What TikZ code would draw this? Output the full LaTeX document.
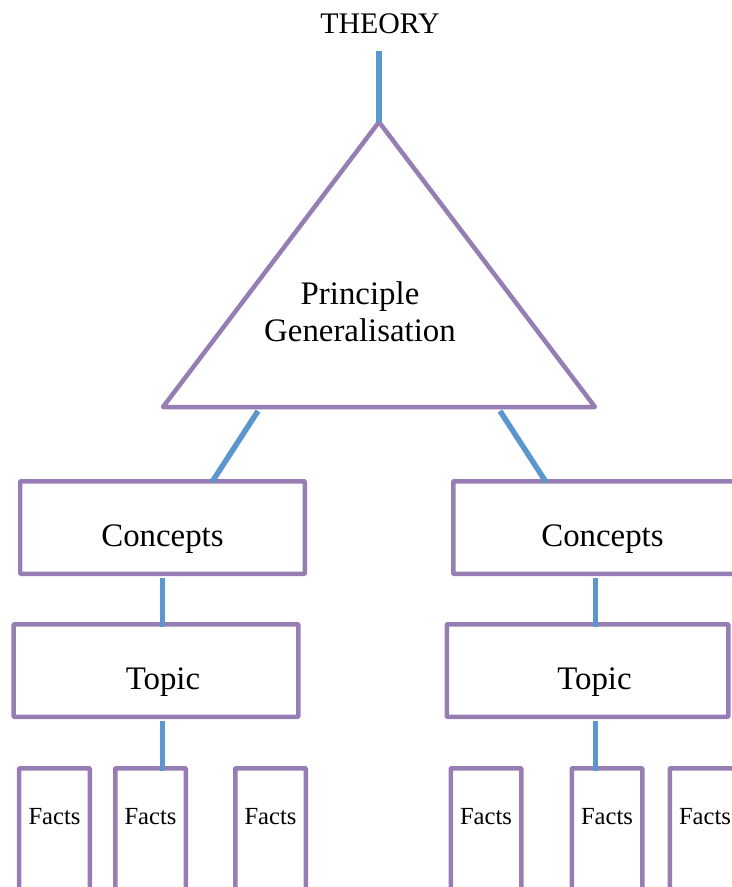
\documentclass[tikz,border=0pt]{standalone}
\usepackage{fontspec}
\setmainfont{Liberation Serif}
\usepackage{tikz}
\usetikzlibrary{calc,positioning}
\definecolor{boxpurple}{RGB}{150,126,180}
\definecolor{linkblue}{RGB}{91,150,204}

\begin{document}
\begin{tikzpicture}[auto]
	\tikzstyle{block} = [draw=boxpurple, line width=0.09cm, rectangle, rounded corners=0.5pt, minimum height=1.85cm, minimum width=5.69cm, inner sep=0pt, text height=0.9cm, text depth=0.15cm, font=\fontsize{18.7}{21}\selectfont]
	\tikzstyle{shifted} = [execute at begin node={\hspace*{0.28cm}}]
	\tikzstyle{facts} = [draw=boxpurple, line width=0.09cm, rectangle, rounded corners=0.5pt, minimum width=1.41cm, inner sep=0pt, text height=1.12cm, text depth=2cm, anchor=north, font=\fontsize{14}{16}\selectfont]
	\tikzstyle{link} = [draw=linkblue, line width=0.11cm]

	\useasboundingbox (0,0) rectangle (14.64,-17.74);
	\clip (0,0) rectangle (14.64,-17.74);

	\node (theory) at (7.6,-0.48) {\fontsize{17}{20}\selectfont THEORY};
	\coordinate (t1) at (7.58,-1.02);
	\coordinate (apex) at (7.58,-2.44);
	\coordinate (baseL) at (3.26,-8.14);
	\coordinate (baseR) at (11.9,-8.14);
	\draw [draw=boxpurple, line width=0.09cm, line join=round] (apex) -- (baseR) -- (baseL) -- cycle;
	\node [align=center, font=\fontsize{18.7}{21}\selectfont] (princ) at (7.2,-6.23) {Principle\\Generalisation};

	\node [block] (conceptsL) at (3.25,-10.55) {Concepts};
	\node [block, shifted, right = 2.88cm of conceptsL] (conceptsR) {Concepts};
	\node [block, shifted, below = 0.92cm of conceptsL, xshift=-0.13cm] (topicL) {Topic};
	\node [block, shifted, minimum width=5.63cm, right = 2.88cm of topicL] (topicR) {Topic};

	\node [facts] (facts1) at (1.09,-15.32) {Facts};
	\node [facts, right = 0.42cm of facts1] (facts2) {Facts};
	\node [facts, right = 0.9cm of facts2] (facts3) {Facts};
	\node [facts] (facts4) at (9.72,-15.32) {Facts};
	\node [facts, right = 0.92cm of facts4] (facts5) {Facts};
	\node [facts, right = 0.46cm of facts5] (facts6) {Facts};

	\coordinate (l1) at (5.16,-8.22);
	\coordinate (l2) at (4.24,-9.64);
	\coordinate (r1) at (10.0,-8.22);
	\coordinate (r2) at (10.92,-9.64);

	\draw [link] (t1) -- (apex);
	\draw [link] (l1) -- (l2);
	\draw [link] (r1) -- (r2);
	\draw [link, shorten <=0.04cm, shorten >=-0.1cm] (conceptsL.south) -- (conceptsL.south |- topicL.north);
	\draw [link, shorten <=0.04cm, shorten >=-0.1cm] (conceptsR.south) -- (conceptsR.south |- topicR.north);
	\draw [link, shorten <=0.04cm, shorten >=-0.1cm] (conceptsL.south |- topicL.south) -- (conceptsL.south |- facts2.north);
	\draw [link, shorten <=0.04cm, shorten >=-0.1cm] (conceptsR.south |- topicR.south) -- (conceptsR.south |- facts5.north);

\end{tikzpicture}
\end{document}
